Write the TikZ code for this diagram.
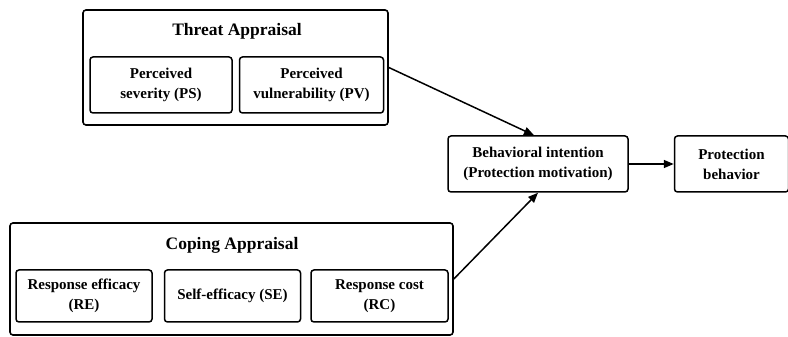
\documentclass[tikz,border=0pt]{standalone}
\usepackage{fontspec}
\setmainfont{Liberation Serif}
\usetikzlibrary{arrows.meta, positioning}

\tikzset{
    box/.style={draw, line width=1.5pt, rounded corners=3pt, inner sep=0pt,
        align=center, font=\fontsize{15}{20}\selectfont\bfseries},
    group/.style={box, line width=1.6pt},
    title/.style={font=\fontsize{17.5}{21}\selectfont\bfseries, inner sep=0pt},
    link/.style={-{Triangle[length=10pt,width=8pt]}, line width=1.5pt}
}

\begin{document}
\begin{tikzpicture}[x=1pt, y=1pt]
    \useasboundingbox (0,0) rectangle (788,337);

    % Appréciation de la menace
    \node[group, minimum width=305pt, minimum height=115pt] (threat) at (235.5,269.5) {};
    \node[title] (threattitle) at (237,306) {Threat Appraisal};
    \node[box, minimum width=142pt, minimum height=56pt] (ps) at (161,252) {Perceived\\severity (PS)};
    \node[box, minimum width=144pt, minimum height=56pt, right=6pt of ps] (pv) {Perceived\\vulnerability (PV)};

    % Appréciation de l'adaptation
    \node[group, minimum width=443pt, minimum height=112pt] (coping) at (231.5,58) {};
    \node[title] (copingtitle) at (232,92) {Coping Appraisal};
    \node[box, minimum width=136pt, minimum height=52pt] (re) at (84,41) {Response efficacy\\(RE)};
    \node[box, minimum width=136pt, minimum height=52pt, right=11pt of re] (se) {Self-efficacy (SE)};
    \node[box, minimum width=137pt, minimum height=52pt, right=9pt of se] (rc) {Response cost\\(RC)};

    % Intention et comportement
    \node[box, minimum width=180pt, minimum height=56pt] (bi) at (538,173) {Behavioral intention\\(Protection motivation)};
    \node[box, minimum width=114pt, minimum height=56pt, right=45pt of bi] (pb) {Protection\\behavior};

    % Flèches
    \draw[link] (threat.east) -- ([xshift=-4pt]bi.north);
    \draw[link] (coping.east) -- (bi.south);
    \draw[link] (bi) -- (pb);

\end{tikzpicture}
\end{document}
